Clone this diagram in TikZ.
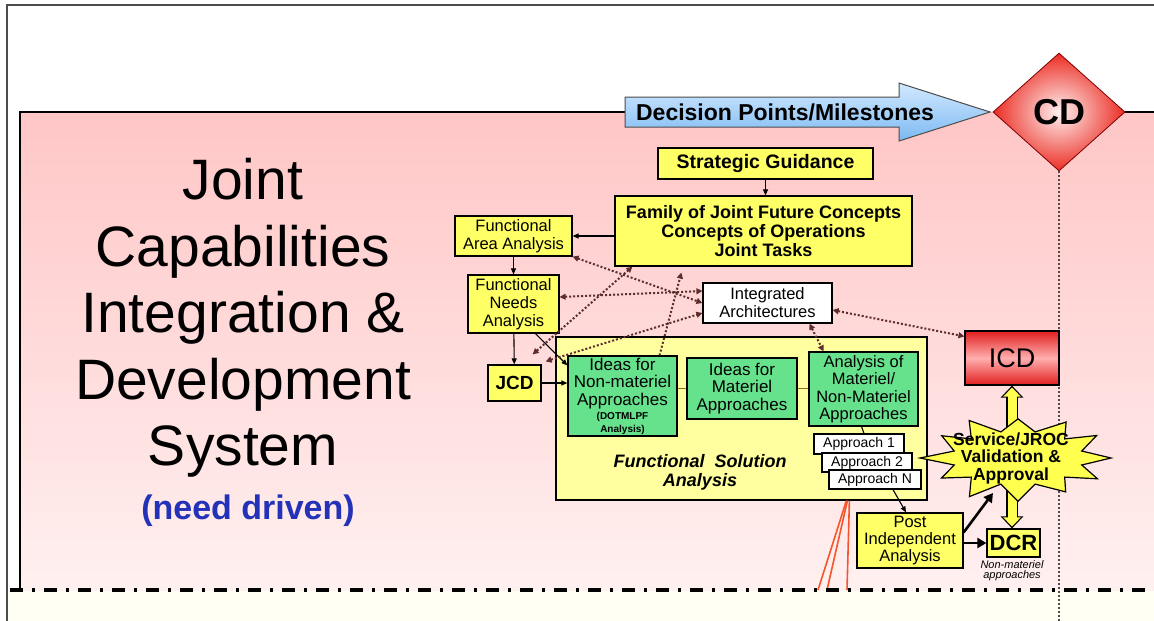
\documentclass[tikz,border=0pt]{standalone}
\usepackage{fontspec}
\setmainfont{Liberation Sans}
\usepackage{tikz}
\usetikzlibrary{arrows.meta,calc,shapes.geometric}

\definecolor{pinktop}{RGB}{255,198,198}
\definecolor{pinkbot}{RGB}{255,240,240}
\definecolor{belowyellow}{RGB}{255,255,244}
\definecolor{boxyellow}{RGB}{255,255,102}
\definecolor{paleyellow}{RGB}{255,255,160}
\definecolor{staryellow}{RGB}{255,255,80}
\definecolor{boxgreen}{RGB}{102,226,140}
\definecolor{cdlight}{RGB}{255,240,240}
\definecolor{cdred}{RGB}{235,45,35}
\definecolor{icdlight}{RGB}{255,175,175}
\definecolor{icdred}{RGB}{225,30,30}
\definecolor{arrowblue}{RGB}{125,185,242}
\definecolor{lightblue}{RGB}{210,233,255}
\definecolor{dotbrown}{RGB}{95,45,45}
\definecolor{linkolive}{RGB}{140,115,30}
\definecolor{phasered}{RGB}{245,85,40}
\definecolor{needblue}{RGB}{35,50,185}

\newcommand{\fsz}[2]{\fontsize{#1}{#2}\selectfont}

\tikzset{
  box/.style={draw=black, line width=1.2pt, inner sep=0pt, align=center},
  ybox/.style={box, fill=boxyellow},
  gbox/.style={box, fill=boxgreen},
  wbox/.style={box, fill=white},
  arr/.style={line width=1.1pt, -{Triangle[length=6pt,width=5pt]}},
  bigarr/.style={line width=2.6pt, -{Triangle[length=9pt,width=10pt]}},
  dotarr/.style={dotbrown, line width=2pt, dash pattern=on 2pt off 2pt,
    {Triangle[length=6pt,width=6pt]}-{Triangle[length=6pt,width=6pt]}},
  dotone/.style={dotarr, -{Triangle[length=6pt,width=6pt]}},
  link/.style={linkolive, line width=1.8pt},
  redln/.style={phasered, line width=1.6pt},
  fatarr/.style={preaction={draw=black, line width=12pt, shorten >=0pt,
      -{Triangle[length=12pt,width=22pt]}},
    draw=staryellow, line width=9pt, shorten >=2pt,
    -{Triangle[length=9pt,width=17pt]}}
}

\begin{document}
\begin{tikzpicture}[x=1pt,y=-1pt]
    % Canvas
    \useasboundingbox (0,0) rectangle (1154,621);
    \fill[white] (0,0) rectangle (1154,621);
    \fill[belowyellow] (8,590) rectangle (1154,621);
    \shade[top color=pinktop, bottom color=pinkbot] (20,112) rectangle (1154,590);
    \draw[line width=1.5pt, black!70] (7,621) -- (7,5) -- (1154,5);
    \draw[line width=1.5pt] (20,590) -- (20,112) -- (625,112);

    % Decision points arrow
    \shadedraw[top color=lightblue, bottom color=arrowblue, draw=black!70, line width=1pt]
      (625,97) -- (899,97) -- (899,83) -- (990,112) -- (899,141) -- (899,127) -- (625,127) -- cycle;
    \node[font=\fsz{23}{23}\bfseries] (dpm) at (785,112) {Decision Points/Milestones};

    % CD diamond
    \node[diamond, draw=red!50!black, line width=0.8pt, inner color=cdlight, outer color=cdred,
      minimum width=132pt, minimum height=118pt, inner sep=0pt,
      font=\fsz{36}{36}\bfseries] (cd) at (1059,112) {CD};
    \coordinate (cdend) at (1059,621);
    \draw[line width=1.5pt] (cd.east) -- (1154,112);
    \draw[line width=1.2pt, black!70, dash pattern=on 2pt off 2pt] (cd.south) -- (cdend);

    % Title
    \node[font=\fsz{57}{66.5}, align=center, inner sep=0pt] (title) at (243,318)
      {Joint\\Capabilities\\Integration \&\\Development\\System};
    \node[font=\fsz{34}{34}\bfseries, text=needblue] (need) at (248,511) {(need driven)};

    % Boxes
    \node[ybox, minimum width=215pt, minimum height=31pt, font=\fsz{19.5}{20}\bfseries] (sg) at (765.5,163.5) {Strategic Guidance};
    \node[ybox, minimum width=297pt, minimum height=70pt, font=\fsz{18}{19}\bfseries] (fjfc) at (763.5,231)
      {Family of Joint Future Concepts\\Concepts of Operations\\Joint Tasks};
    \node[ybox, minimum width=117pt, minimum height=40pt, font=\fsz{16.5}{18}] (faa) at (513.5,236) {Functional\\Area Analysis};
    \node[ybox, minimum width=91pt, minimum height=58pt, font=\fsz{16.5}{18}] (fna) at (513.5,304) {Functional\\Needs\\Analysis};
    \node[wbox, minimum width=129pt, minimum height=40pt, font=\fsz{16.5}{18}] (ia) at (767.5,303) {Integrated\\Architectures};
    \node[ybox, minimum width=53pt, minimum height=36pt, font=\fsz{19}{19}\bfseries] (jcd) at (514.5,383) {JCD};

    % Functional solution analysis
    \node[box, fill=paleyellow, minimum width=371pt, minimum height=163pt] (fsa) at (741.5,418.5) {};
    \node[font=\fsz{18}{19}\bfseries\itshape, align=center] (fsalabel) at (700,472.5) {Functional~~Solution\\Analysis};
    \node[gbox, minimum width=109pt, minimum height=80pt, font=\fsz{17}{17.5}] (inm) at (622.5,396)
      {Ideas for\\Non-materiel\\Approaches\\[-3pt]{\fsz{10}{11}\bfseries (DOTMLPF}\\[-5pt]{\fsz{10}{11}\bfseries Analysis)}};
    \node[gbox, minimum width=110pt, minimum height=61pt, font=\fsz{17}{17.5}] (im) at (742,388.5) {Ideas for\\Materiel\\Approaches};
    \node[gbox, minimum width=109pt, minimum height=74pt, font=\fsz{16.5}{17.5}] (amn) at (863.5,389)
      {Analysis of\\Materiel/\\Non-Materiel\\Approaches};
    \node[wbox, minimum width=90pt, minimum height=20pt, font=\fsz{14}{14}] (ap1) at (859,444) {Approach 1};
    \node[wbox, minimum width=90pt, minimum height=19pt, font=\fsz{14}{14}] (ap2) at (867,462.5) {Approach 2};
    \node[wbox, minimum width=92pt, minimum height=19pt, font=\fsz{14}{14}] (apn) at (875,479.5) {Approach N};

    % Right side
    \node[ybox, minimum width=106pt, minimum height=55pt, font=\fsz{16.5}{17}] (pia) at (910,540.5) {Post\\Independent\\Analysis};
    \node[ybox, minimum width=53pt, minimum height=28pt, font=\fsz{22}{22}\bfseries] (dcr) at (1013.5,543) {DCR};
    \node[font=\fsz{11}{10}\itshape, align=center] (dcrnote) at (1012,571) {Non-materiel\\approaches};
    \node[box, top color=icdred, bottom color=icdred, middle color=icdlight, minimum width=94pt, minimum height=54pt, font=\fsz{27}{27}] (icd) at (1012,358) {ICD};

    % Solid arrows
    \draw[arr] (sg.south) -- (sg.south |- fjfc.north);
    \draw[arr] (faa.east -| fjfc.west) -- (faa.east);
    \draw[arr] (faa) -- (fna);
    \draw[arr] (fna) -- (jcd);
    \draw[arr] (jcd.east) -- (jcd.east -| inm.west);
    \draw[arr] ([xshift=22pt]fna.south) -- ([yshift=-10pt]inm.north west);
    \draw[link] (im.west -| inm.east) -- (im.west);
    \draw[link] (im.east) -- (im.east -| amn.west);
    \draw[line width=1.1pt] ([xshift=-2pt]amn.south) -- ([xshift=5pt]ap1.north);
    \draw[arr] ([xshift=18pt]apn.south) -- ([xshift=-4pt]pia.north);

    % Dotted links
    \draw[dotarr] (faa.south east) -- (ia.west);
    \draw[dotarr] ([yshift=7pt]fna.east) -- ([yshift=12pt]ia.west);
    \draw[dotarr] ([shift={(-9pt,10pt)}]jcd.north east) -- ([xshift=18pt]fjfc.south west);
    \draw[dotarr] ([shift={(4pt,3pt)}]jcd.north east) -- ([yshift=-10pt]ia.west);
    \draw[dotone] ([xshift=37pt]inm.north) -- ([shift={(67pt,-6pt)}]fjfc.south west);
    \draw[dotarr] ([xshift=42pt]ia.south) -- ([xshift=-40pt]amn.north);
    \draw[dotarr] ([yshift=-7pt]ia.east) -- ([yshift=-6pt]icd.north west);

    % Red lines down to the phase line
    \coordinate (r1) at (818,590);
    \coordinate (r2) at (827,590);
    \coordinate (r3) at (847,590);
    \draw[redln] ([xshift=291pt]fsa.south west) -- (r1);
    \draw[redln] ([xshift=292pt]fsa.south west) -- (r2);
    \draw[redln] ([xshift=294pt]fsa.south west) -- (r3);

    % Validation burst
    \coordinate (burst) at (1012,458);
    \draw[fatarr] (burst) -- (burst |- icd.south);
    \draw[fatarr] (burst) -- (burst |- dcr.north);
    \draw[fill=staryellow, line width=1.2pt] plot[variable=\k, samples at={0,...,23}]
      ({1018+(isodd(\k) ? 66 : 93+5*sin(\k*97))*cos(\k*15)},
       {458+(isodd(\k) ? 27 : 42+3*cos(\k*131))*sin(\k*15)}) -- cycle;
    \node[font=\fsz{17.5}{17.5}\bfseries, align=center] (svc) at (1011,458) {Service/JROC\\Validation \&\\Approval};
    \draw[bigarr] (pia.east |- dcr.west) -- (dcr.west);
    \draw[bigarr] ([yshift=8pt]pia.east) -- ([shift={(-19pt,-35pt)}]burst);

    % Phase line
    \draw[line width=3.4pt, dash pattern=on 13pt off 9pt on 3pt off 9pt] (10,590) -- (1154,590);
\end{tikzpicture}
\end{document}
